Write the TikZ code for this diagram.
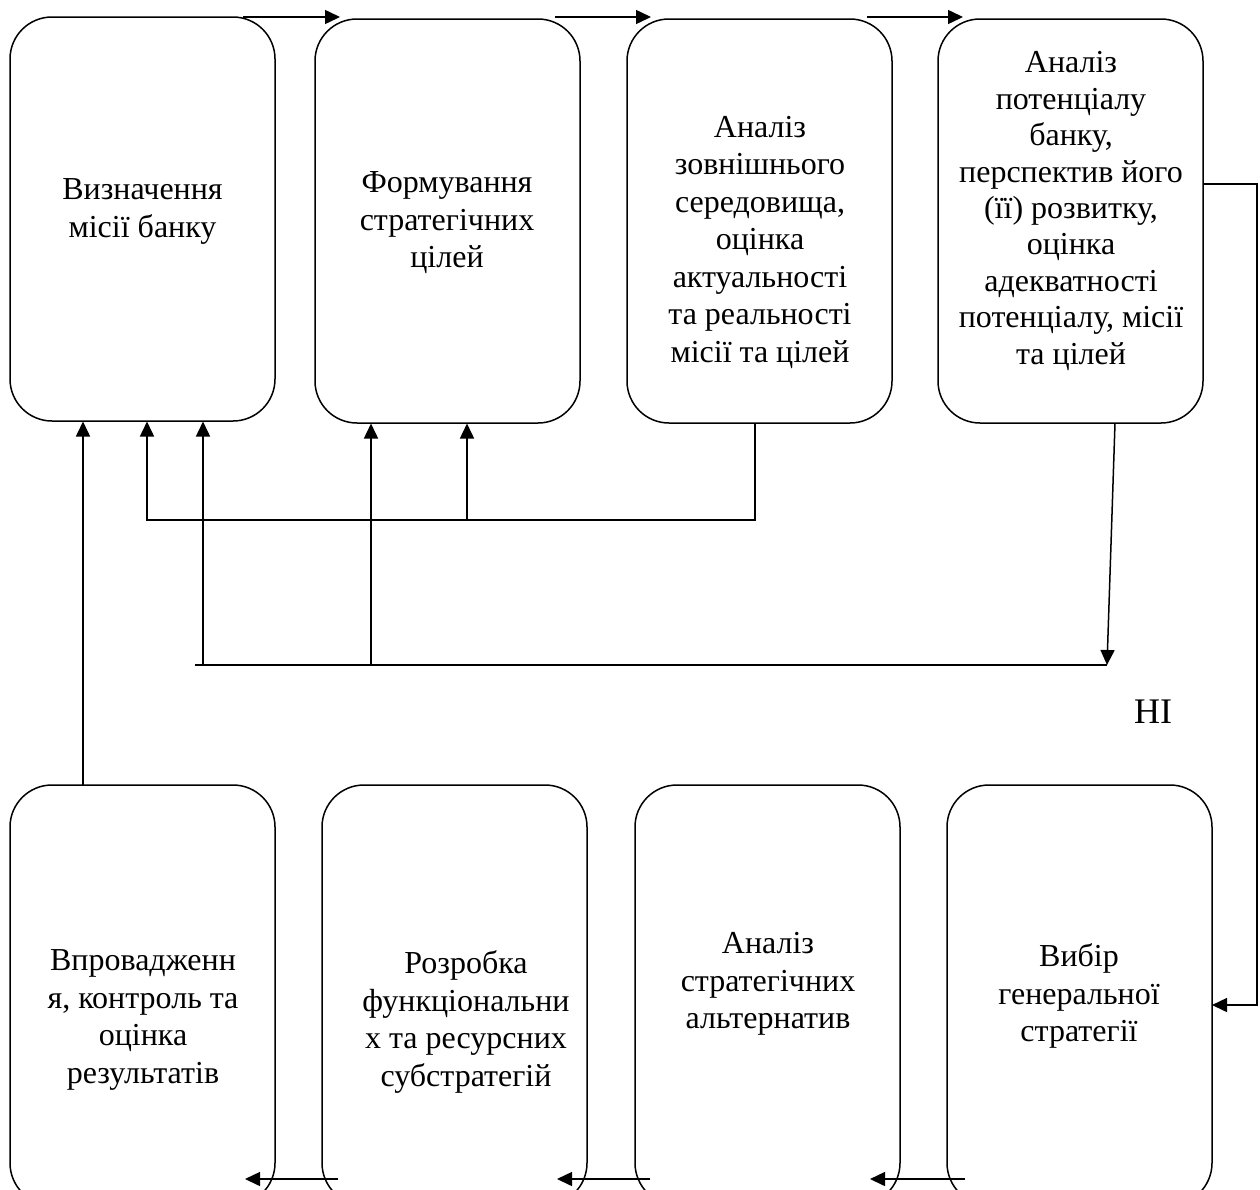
\documentclass[tikz,border=0pt]{standalone}
\usepackage{fontspec}
\setmainfont{Liberation Serif}
\usetikzlibrary{arrows.meta}
\begin{document}
\begin{tikzpicture}[x=1pt,y=-1pt,
  box/.style={draw,line width=1.5pt,rounded corners=42pt,minimum width=265pt,inner sep=0pt},
  topbox/.style={box,minimum height=404pt},
  botbox/.style={box,minimum height=420pt},
  txt/.style={align=center,font=\fontsize{32}{37.5}\selectfont,inner sep=0pt},
  con/.style={line width=1.5pt},
  arr/.style={con,-{Triangle[length=15pt,width=14pt]}}]
\useasboundingbox (0,0) rectangle (1260,1189);
% top row
\node[topbox] (b1) at (142.5,219) {};
\node[topbox] (b2) at (447.5,221) {};
\node[topbox] (b3) at (759.5,221) {};
\node[topbox] (b4) at (1070.5,221) {};
% bottom row
\node[botbox] (b5) at (142.5,995) {};
\node[botbox] (b6) at (454.5,995) {};
\node[botbox] (b7) at (767.5,995) {};
\node[botbox] (b8) at (1079.5,995) {};
% texts
\node[txt] (t1) at (142.5,211.5) {Визначення\\місії банку};
\node[txt] (t2) at (447,223) {Формування\\стратегічних\\цілей};
\node[txt] (t3) at (760,242) {Аналіз\\зовнішнього\\середовища,\\оцінка\\актуальності\\та реальності\\місії та цілей};
\node[txt,font=\fontsize{32}{36.4}\selectfont] (t4) at (1071,211) {Аналіз\\потенціалу\\банку,\\перспектив його\\(її) розвитку,\\оцінка\\адекватності\\потенціалу, місії\\та цілей};
\node[txt] (t5) at (143,1020) {Впровадженн\\я, контроль та\\оцінка\\результатів};
\node[txt] (t6) at (466,1022) {Розробка\\функціональни\\х та ресурсних\\субстратегій};
\node[txt] (t7) at (768,984) {Аналіз\\стратегічних\\альтернатив};
\node[txt] (t8) at (1079,996) {Вибір\\генеральної\\стратегії};
\node[font=\fontsize{36}{40}\selectfont,inner sep=0pt] (no) at (1153,712) {НІ};
% coordinates
\coordinate (a1s) at (243,17);  \coordinate (a1e) at (340,17);
\coordinate (a2s) at (555,17);  \coordinate (a2e) at (651,17);
\coordinate (a3s) at (867,17);  \coordinate (a3e) at (963,17);
\coordinate (f3) at (755,423);
\coordinate (h1r) at (755,520); \coordinate (h1l) at (147,520);
\coordinate (h1m) at (467,520);
\coordinate (u1) at (147,421.5); \coordinate (u2) at (467,423.5);
\coordinate (f4) at (1115,423); \coordinate (d4) at (1107,665);
\coordinate (h2l) at (195,665);
\coordinate (h2a) at (203,665); \coordinate (h2b) at (371,665);
\coordinate (u3) at (203,421.5); \coordinate (u4) at (371,423.5);
\coordinate (f5) at (83,785); \coordinate (u5) at (83,421.5);
\coordinate (r1) at (1257,184); \coordinate (r2) at (1257,1005);
\coordinate (e8) at (1212,1005);
\coordinate (c1s) at (338,1179); \coordinate (c1e) at (245,1179);
\coordinate (c2s) at (650,1179); \coordinate (c2e) at (557,1179);
\coordinate (c3s) at (965,1179); \coordinate (c3e) at (870,1179);
% connectors
\draw[arr] (a1s) -- (a1e);
\draw[arr] (a2s) -- (a2e);
\draw[arr] (a3s) -- (a3e);
\draw[arr] (f3) -- (h1r) -- (h1l) -- (u1);
\draw[arr] (h1m) -- (u2);
\draw[arr] (f4) -- (d4);
\draw[con] (d4) -- (h2l);
\draw[arr] (h2a) -- (u3);
\draw[arr] (h2b) -- (u4);
\draw[arr] (f5) -- (u5);
\draw[arr] (b4.east |- r1) -- (r1) -- (r2) -- (e8);
\draw[arr] (c1s) -- (c1e);
\draw[arr] (c2s) -- (c2e);
\draw[arr] (c3s) -- (c3e);
\end{tikzpicture}
\end{document}
